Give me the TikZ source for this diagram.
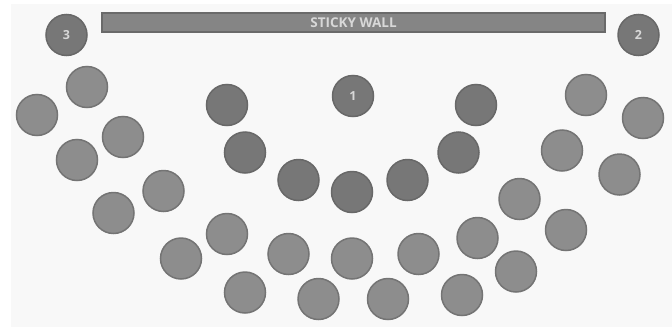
\documentclass[tikz,border=0pt]{standalone}
\usepackage{fontspec}
\setmainfont{Open Sans}
\definecolor{bgc}{HTML}{F8F8F8}
\definecolor{darkfill}{HTML}{777777}
\definecolor{darkline}{HTML}{686868}
\definecolor{lightfill}{HTML}{8D8D8D}
\definecolor{lightline}{HTML}{747474}
\definecolor{barfill}{HTML}{858585}
\definecolor{barline}{HTML}{6A6A6A}
\definecolor{txtc}{HTML}{D8D8D8}
\begin{document}
\begin{tikzpicture}[x=1pt,y=-1pt,
  seat/.style={circle,minimum size=41pt,inner sep=0pt,fill=lightfill,draw=lightline,line width=1.5pt},
  chair/.style={circle,minimum size=41pt,inner sep=0pt,fill=darkfill,draw=darkline,line width=1.5pt,
    text=txtc,font=\fontsize{12.5}{12.5}\selectfont\bfseries},
  wall/.style={rectangle,minimum width=503pt,minimum height=19pt,inner sep=0pt,fill=barfill,draw=barline,line width=1.5pt,
    text=txtc,font=\fontsize{13.5}{13.5}\selectfont\bfseries}]
\useasboundingbox (0,0) rectangle (672,327);
\fill[white] (0,0) rectangle (672,327);
\fill[bgc] (11,4) rectangle (672,327);
% sticky wall
\node[wall] (wall) at (353.5,22.5) {STICKY WALL};
% numbered chairs
\node[chair] (c3) at (66.5,35) {3};
\node[chair] (c2) at (638.5,35) {2};
\node[chair] (c1) at (353,96) {1};
% dark seats
\node[chair] (d1) at (227,105) {};
\node[chair] (d2) at (245,152.5) {};
\node[chair] (d3) at (298.5,180) {};
\node[chair] (d4) at (352,192) {};
\node[chair] (d5) at (407.5,180) {};
\node[chair] (d6) at (458.5,152.5) {};
\node[chair] (d7) at (476,105) {};
% light seats
\node[seat] (s1) at (87,87) {};
\node[seat] (s2) at (37,115) {};
\node[seat] (s3) at (123,137) {};
\node[seat] (s4) at (77,160) {};
\node[seat] (s5) at (163.5,191) {};
\node[seat] (s6) at (113.5,213) {};
\node[seat] (s7) at (227,234) {};
\node[seat] (s8) at (181,258.5) {};
\node[seat] (s9) at (245,292.5) {};
\node[seat] (s10) at (288.5,254) {};
\node[seat] (s11) at (318.5,299) {};
\node[seat] (s12) at (352,258.5) {};
\node[seat] (s13) at (388,299) {};
\node[seat] (s14) at (418.5,254) {};
\node[seat] (s15) at (462,295) {};
\node[seat] (s16) at (477.5,238) {};
\node[seat] (s17) at (516,271.5) {};
\node[seat] (s18) at (519.5,199) {};
\node[seat] (s19) at (566,230) {};
\node[seat] (s20) at (562,150.5) {};
\node[seat] (s21) at (586,95) {};
\node[seat] (s22) at (643,118) {};
\node[seat] (s23) at (619.5,174.5) {};
\end{tikzpicture}
\end{document}
